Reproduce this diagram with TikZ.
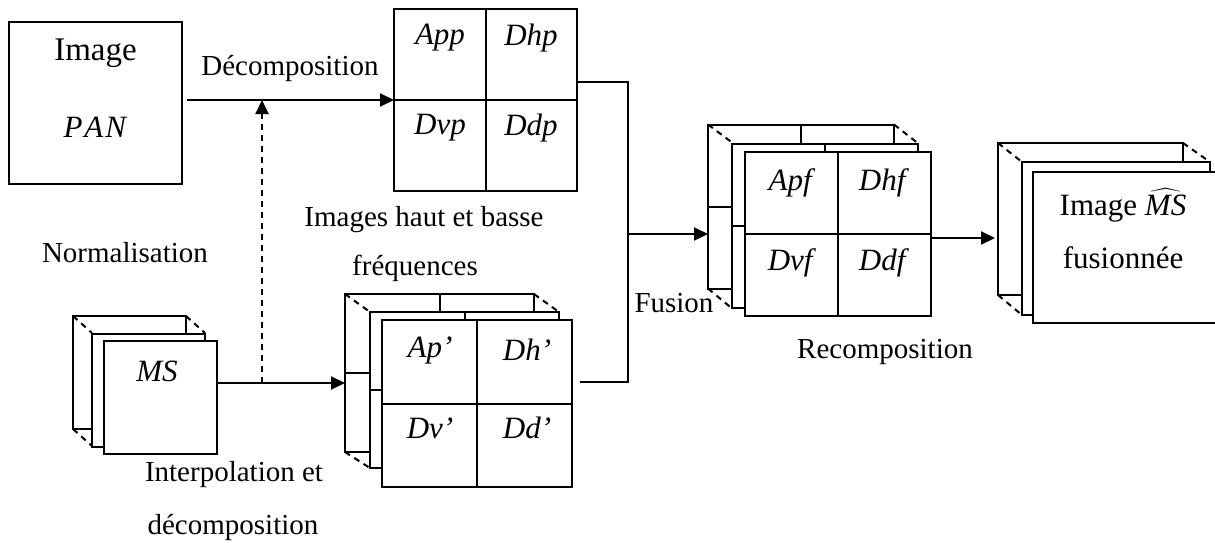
\documentclass[tikz,border=0pt]{standalone}
\usepackage{fontspec}
\setmainfont{Liberation Serif}
\usetikzlibrary{arrows.meta}
\usetikzlibrary{calc}

\newcommand{\lbl}[1]{{\fontsize{15.5}{17}\selectfont\textit{#1}}}

\begin{document}
\begin{tikzpicture}[x=0.5pt,y=-0.5pt,>/.tip={Triangle[length=7pt,width=6.5pt]},line width=1pt,
	font=\fontsize{14.5}{17}\selectfont,
	box/.style={draw,fill=white,inner sep=0pt,outer sep=0pt},
	hid/.style={dash pattern=on 3pt off 2.5pt}]
	\useasboundingbox (0,0) rectangle (1215,542);

	% PAN image
	\draw (95.5,103) node (pan) [box,minimum width=86.5pt,minimum height=81pt] {};
	\node (panl1) at (95.5,53) [font=\fontsize{16.5}{19}\selectfont] {Image};
	\node (panl2) at (95.5,127) {\lbl{P\kern1pt A\kern1pt N}};

	% PAN decomposition
	\draw (485.5,100) node (pp) [box,minimum width=91.5pt,minimum height=91pt] {};
	\draw (pp.north) -- (pp.south) (pp.west) -- (pp.east);
	\node (app) at (440,38) {\lbl{App}};
	\node (dhp) at (531,38) {\lbl{Dhp}};
	\node (dvp) at (440,128) {\lbl{Dvp}};
	\node (ddp) at (531,128) {\lbl{Ddp}};

	\draw[->,shorten <=2.5pt] (pan.east |- pp.west) -- (pp.west);
	\node (decomp) at (290,68) {Décomposition};

	% MS stack
	\draw (129.5,372.5) node (ms1) [box,minimum size=56.5pt] {};
	\draw[hid] (ms1.north west) -- ++(19,17) (ms1.north east) -- ++(19,17) (ms1.south west) -- ++(19,17);
	\draw (148.5,390) node (ms2) [box,minimum size=56.5pt] {};
	\draw (160,397) node (ms3) [box,minimum size=56.5pt] {};
	\node (msl) at (157,371) {\lbl{MS}};

	\node (norml) at (125,253) {Normalisation};
	\node (interl1) at (234,475) {Interpolation et};
	\node (interl2) at (233,527) {décomposition};

	% interpolated MS decomposition
	\draw (439.5,373) node (ip1) [box,minimum width=94.5pt,minimum height=79pt] {};
	\draw (ip1.north) -- (ip1.south) (ip1.west) -- (ip1.east);
	\draw[hid] (ip1.north west) -- ++(25,18) (ip1.north east) -- ++(25,18) (ip1.south west) -- ++(25,16);
	\draw (464.5,390) node (ip2) [box,minimum width=94.5pt,minimum height=78pt] {};
	\draw (ip2.north) -- (ip2.south) (ip2.west) -- (ip2.east);
	\draw (477,403.5) node (ip3) [box,minimum width=95pt,minimum height=83.5pt] {};
	\draw (ip3.north) -- (ip3.south) (ip3.west) -- (ip3.east);
	\node (apq) at (430,350) {\lbl{Ap’}};
	\node (dhq) at (527,350) {\lbl{Dh’}};
	\node (dvq) at (430,428) {\lbl{Dv’}};
	\node (ddq) at (527,428) {\lbl{Dd’}};

	\coordinate (msout) at ([yshift=7pt]ms3.east);
	\draw[->] (msout) -- (msout -| ip1.west);
	\coordinate (norm) at (262,383);
	\draw[hid,->] (norm) -- (norm |- pp.west);

	\node (hbl1) at (424,220) {Images haut et basse};
	\node (hbl2) at (415,268) {fréquences};

	% fusion
	\coordinate (fj) at (628,234);
	\draw ([yshift=9pt]pp.east) -| (fj) |- ([xshift=4pt,yshift=10.75pt]ip3.east);

	\draw (801,206.5) node (fu1) [box,minimum width=93pt,minimum height=82pt] {};
	\draw (fu1.north) -- (fu1.south) (fu1.west) -- (fu1.east);
	\draw[hid] (fu1.north west) -- ++(24,18) (fu1.north east) -- ++(23,18) (fu1.south west) -- ++(24,20);
	\draw (824.5,225.5) node (fu2) [box,minimum width=93pt,minimum height=82pt] {};
	\draw (fu2.north) -- (fu2.south) (fu2.west) -- (fu2.east);
	\draw (837.5,234) node (fu3) [box,minimum width=93pt,minimum height=82pt] {};
	\draw (fu3.north) -- (fu3.south) (fu3.west) -- (fu3.east);
	\node (apf) at (792,183) {\lbl{Apf}};
	\node (dhf) at (884,183) {\lbl{Dhf}};
	\node (dvf) at (792,263) {\lbl{Dvf}};
	\node (ddf) at (884,263) {\lbl{Ddf}};

	\draw[->] (fj) -- (fj -| fu1.west);
	\node (fusl) at (674,303) {Fusion};
	\node (recl) at (885,352) {Recomposition};

	% fused MS
	\draw (1090.5,219) node (out1) [box,minimum width=92.5pt,minimum height=76pt] {};
	\draw[hid] (out1.north west) -- ++(24,19) (out1.north east) -- ++(27,19) (out1.south west) -- ++(24,20);
	\draw (1116,238.5) node (out2) [box,minimum width=94pt,minimum height=76.5pt] {};
	\draw (1124.5,247.5) node (out3) [box,minimum width=91.5pt,minimum height=75.5pt] {};
	\node (outl) at (1123,229) [align=center,font=\fontsize{15.5}{26.5}\selectfont] {Image $\widehat{\mbox{\lbl{MS}}}$\\fusionnée};

	\coordinate (fuout) at ([yshift=-2pt]fu3.east);
	\draw[->,shorten >=1.5pt] (fuout) -- (fuout -| out1.west);
\end{tikzpicture}
\end{document}
